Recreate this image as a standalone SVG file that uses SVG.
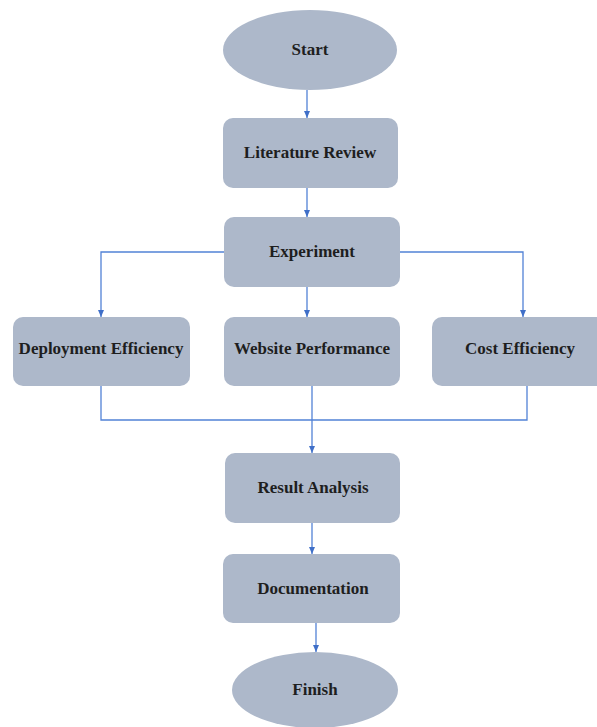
<svg xmlns="http://www.w3.org/2000/svg" width="597" height="727" viewBox="0 0 597 727">
<defs>
<style>
.n{fill:#adb8ca;stroke:none}
.t{font-family:'Liberation Serif','Times New Roman',Tinos,'DejaVu Serif',serif;font-weight:700;font-size:17px;fill:#1e1e1e;text-anchor:middle}
.c{fill:none;stroke:#5282d6;stroke-width:1.3}
</style>
<marker id="ah" markerWidth="7" markerHeight="6" refX="7" refY="3" orient="auto" markerUnits="userSpaceOnUse">
<path d="M0,0 L7,3 L0,6 z" fill="#3f6fc8"/>
</marker>
</defs>
<rect width="597" height="727" fill="#ffffff"/>
<g id="connectors">
<path class="c" d="M307,90 V118" marker-end="url(#ah)"/>
<path class="c" d="M307,188 V217" marker-end="url(#ah)"/>
<path class="c" d="M224,252 H101 V317" marker-end="url(#ah)"/>
<path class="c" d="M307,287 V317" marker-end="url(#ah)"/>
<path class="c" d="M400,252 H523 V317" marker-end="url(#ah)"/>
<path class="c" d="M101,386 V420 H527 V386"/>
<path class="c" d="M312,386 V453" marker-end="url(#ah)"/>
<path class="c" d="M312,523 V554" marker-end="url(#ah)"/>
<path class="c" d="M316,623 V652" marker-end="url(#ah)"/>
</g>
<g id="start">
<ellipse class="n" cx="310" cy="50" rx="87" ry="40"/>
<text class="t" x="310" y="55">Start</text>
</g>
<g id="literature-review">
<rect class="n" x="223" y="118" width="175" height="70" rx="10"/>
<text class="t" x="310" y="158">Literature Review</text>
</g>
<g id="experiment">
<rect class="n" x="224" y="217" width="176" height="70" rx="10"/>
<text class="t" x="312" y="257">Experiment</text>
</g>
<g id="deployment-efficiency">
<rect class="n" x="13" y="317" width="177" height="69" rx="10"/>
<text class="t" x="101" y="354">Deployment Efficiency</text>
</g>
<g id="website-performance">
<rect class="n" x="224" y="317" width="176" height="69" rx="10"/>
<text class="t" x="312" y="354">Website Performance</text>
</g>
<g id="cost-efficiency">
<rect class="n" x="432" y="317" width="180" height="69" rx="10"/>
<text class="t" x="520" y="354">Cost Efficiency</text>
</g>
<g id="result-analysis">
<rect class="n" x="225" y="453" width="175" height="70" rx="10"/>
<text class="t" x="313" y="493">Result Analysis</text>
</g>
<g id="documentation">
<rect class="n" x="223" y="554" width="177" height="69" rx="10"/>
<text class="t" x="313" y="594">Documentation</text>
</g>
<g id="finish">
<ellipse class="n" cx="315" cy="690" rx="83" ry="38"/>
<text class="t" x="315" y="695">Finish</text>
</g>
</svg>
